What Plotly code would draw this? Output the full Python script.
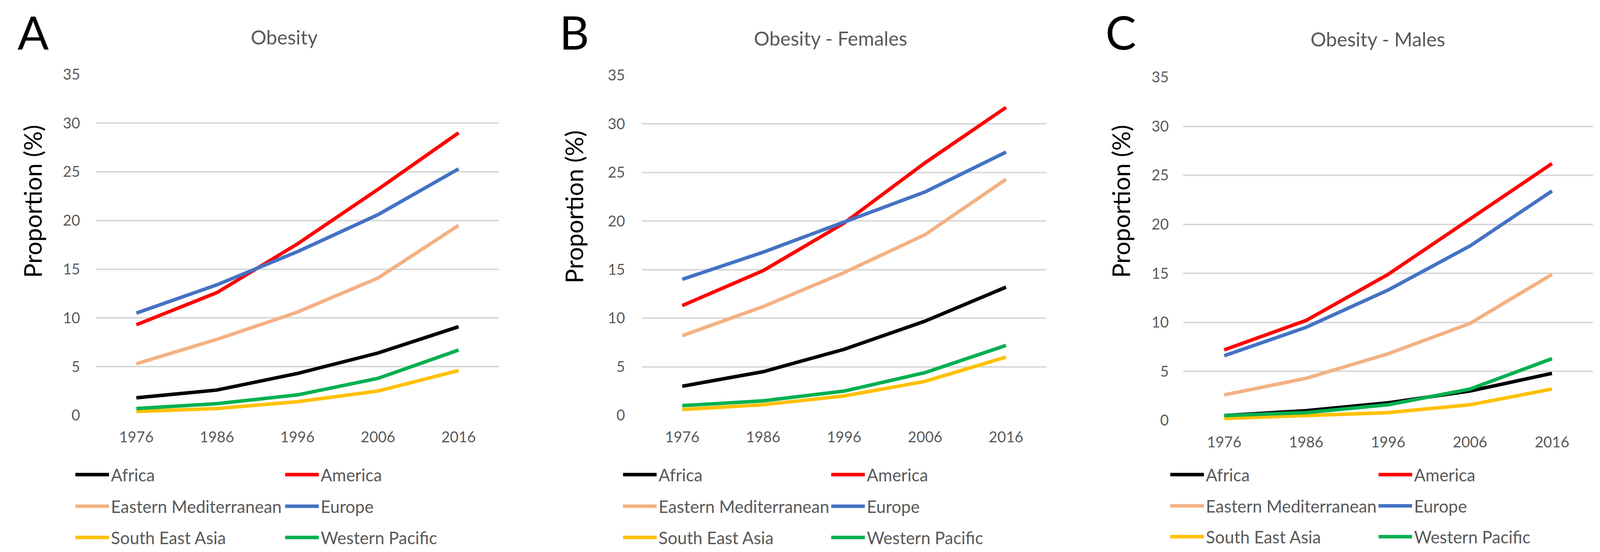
import plotly.graph_objects as go

W, H = 4106, 1414

years = ["1976", "1986", "1996", "2006", "2016"]
regions = ["Africa", "America", "Eastern Mediterranean", "Europe", "South East Asia", "Western Pacific"]
colors = ["#000000", "#FF0000", "#F4B183", "#4472C4", "#FFC000", "#00B050"]
y_ticks = [0, 5, 10, 15, 20, 25, 30, 35]

# Panel A - Obesity (total)
africa_total = [1.8, 2.6, 4.3, 6.4, 9.1]
america_total = [9.3, 12.6, 17.6, 23.2, 29.0]
eastmed_total = [5.3, 7.8, 10.6, 14.1, 19.5]
europe_total = [10.5, 13.4, 16.8, 20.6, 25.3]
sea_total = [0.4, 0.7, 1.4, 2.5, 4.6]
wp_total = [0.7, 1.2, 2.1, 3.8, 6.7]

# Panel B - Obesity - Females
africa_f = [3.0, 4.5, 6.8, 9.7, 13.2]
america_f = [11.3, 14.9, 19.8, 26.0, 31.7]
eastmed_f = [8.2, 11.2, 14.7, 18.6, 24.3]
europe_f = [14.0, 16.8, 19.9, 23.0, 27.1]
sea_f = [0.6, 1.1, 2.0, 3.5, 6.0]
wp_f = [1.0, 1.5, 2.5, 4.4, 7.2]

# Panel C - Obesity - Males
africa_m = [0.5, 1.0, 1.8, 3.0, 4.8]
america_m = [7.2, 10.2, 14.9, 20.5, 26.2]
eastmed_m = [2.6, 4.3, 6.8, 9.9, 14.9]
europe_m = [6.6, 9.5, 13.3, 17.8, 23.4]
sea_m = [0.2, 0.5, 0.8, 1.6, 3.2]
wp_m = [0.5, 0.8, 1.6, 3.2, 6.3]

panel_titles = ["Obesity", "Obesity - Females", "Obesity - Males"]
panel_letters = ["A", "B", "C"]
y_title = "Proportion (%)"

series = [
    [africa_total, america_total, eastmed_total, europe_total, sea_total, wp_total],
    [africa_f, america_f, eastmed_f, europe_f, sea_f, wp_f],
    [africa_m, america_m, eastmed_m, europe_m, sea_m, wp_m],
]

# layout geometry in pixels (left, right, top(35), bottom(0))
plot_px = [(238, 1269, 182.5, 1056), (1635, 2671, 185, 1056), (3021, 4070, 190, 1069)]
letter_px = [(77, 1), (1462, 1), (2861, 1)]
title_px = [(720, 87), (2118, 90), (3519, 92)]
ytitle_px = [(75, 508), (1461, 522), (2861, 508)]
legend_text_x = [(290, 827), (1692, 2225), (3093, 3626)]
legend_rows_y = [(1208, 1289, 1369), (1208, 1289, 1369), (1208, 1288, 1367)]
ytick_standoff = [40, 42, 36]

FONT = "Lato"
GRAY = "#595959"
SYMW = 86

fig = go.Figure()
annotations = []
layout = dict(
    template="none",
    width=W, height=H,
    margin=dict(l=0, r=0, t=0, b=0, pad=0, autoexpand=False),
    paper_bgcolor="white", plot_bgcolor="white",
    font=dict(family=FONT, color=GRAY),
    hovermode=False,
)

def px_x(x):
    return x / W

def px_y(y):
    return 1 - y / H

legend_idx = 0
for p in range(3):
    xa = "x" if p == 0 else f"x{p+1}"
    ya = "y" if p == 0 else f"y{p+1}"
    xkey = "xaxis" if p == 0 else f"xaxis{p+1}"
    ykey = "yaxis" if p == 0 else f"yaxis{p+1}"
    l, r, t, b = plot_px[p]
    for i, name in enumerate(regions):
        legend_idx += 1
        lname = "legend" if legend_idx == 1 else f"legend{legend_idx}"
        fig.add_trace(go.Scatter(
            x=years, y=series[p][i], mode="lines", name=name,
            line=dict(color=colors[i], width=9),
            xaxis=xa, yaxis=ya, legend=lname, showlegend=True,
        ))
        row, col = i // 2, i % 2
        tx = legend_text_x[p][col]
        ty = legend_rows_y[p][row]
        layout[lname] = dict(
            x=px_x(tx - SYMW - 24), y=px_y(ty), xanchor="left", yanchor="middle",
            orientation="h", bgcolor="rgba(0,0,0,0)", borderwidth=0,
            font=dict(family=FONT, size=43.5, color=GRAY),
            itemwidth=SYMW, tracegroupgap=0, itemclick=False, itemdoubleclick=False,
        )
    layout[xkey] = dict(
        domain=[px_x(l), px_x(r)], anchor=ya, type="category",
        range=[-0.5, 4.5], showgrid=False, zeroline=False, showline=False,
        ticks="", tickfont=dict(family=FONT, size=38, color=GRAY),
        ticklabelstandoff=30, fixedrange=True, automargin=False,
    )
    layout[ykey] = dict(
        domain=[px_y(b), px_y(t)], anchor=xa, range=[0, 35],
        tickvals=y_ticks, showgrid=True, gridcolor="#D9D9D9", gridwidth=4,
        zeroline=False, showline=False, ticks="",
        tickfont=dict(family=FONT, size=38, color=GRAY),
        ticklabelstandoff=ytick_standoff[p], fixedrange=True, automargin=False,
    )
    lx, ly = letter_px[p]
    annotations.append(dict(text=panel_letters[p], x=px_x(lx), y=px_y(ly), xref="paper", yref="paper",
                            xanchor="center", yanchor="top", showarrow=False,
                            font=dict(family=FONT, size=118, color="black")))
    tx, ty = title_px[p]
    annotations.append(dict(text=panel_titles[p], x=px_x(tx), y=px_y(ty), xref="paper", yref="paper",
                            xanchor="center", yanchor="middle", showarrow=False,
                            font=dict(family=FONT, size=50, color=GRAY)))
    yx, yy = ytitle_px[p]
    annotations.append(dict(text=y_title, x=px_x(yx), y=px_y(yy), xref="paper", yref="paper",
                            xanchor="center", yanchor="middle", showarrow=False, textangle=-90,
                            font=dict(family=FONT, size=62, color="black")))

layout["annotations"] = annotations
fig.update_layout(**layout)
fig.write_html("out.html")
